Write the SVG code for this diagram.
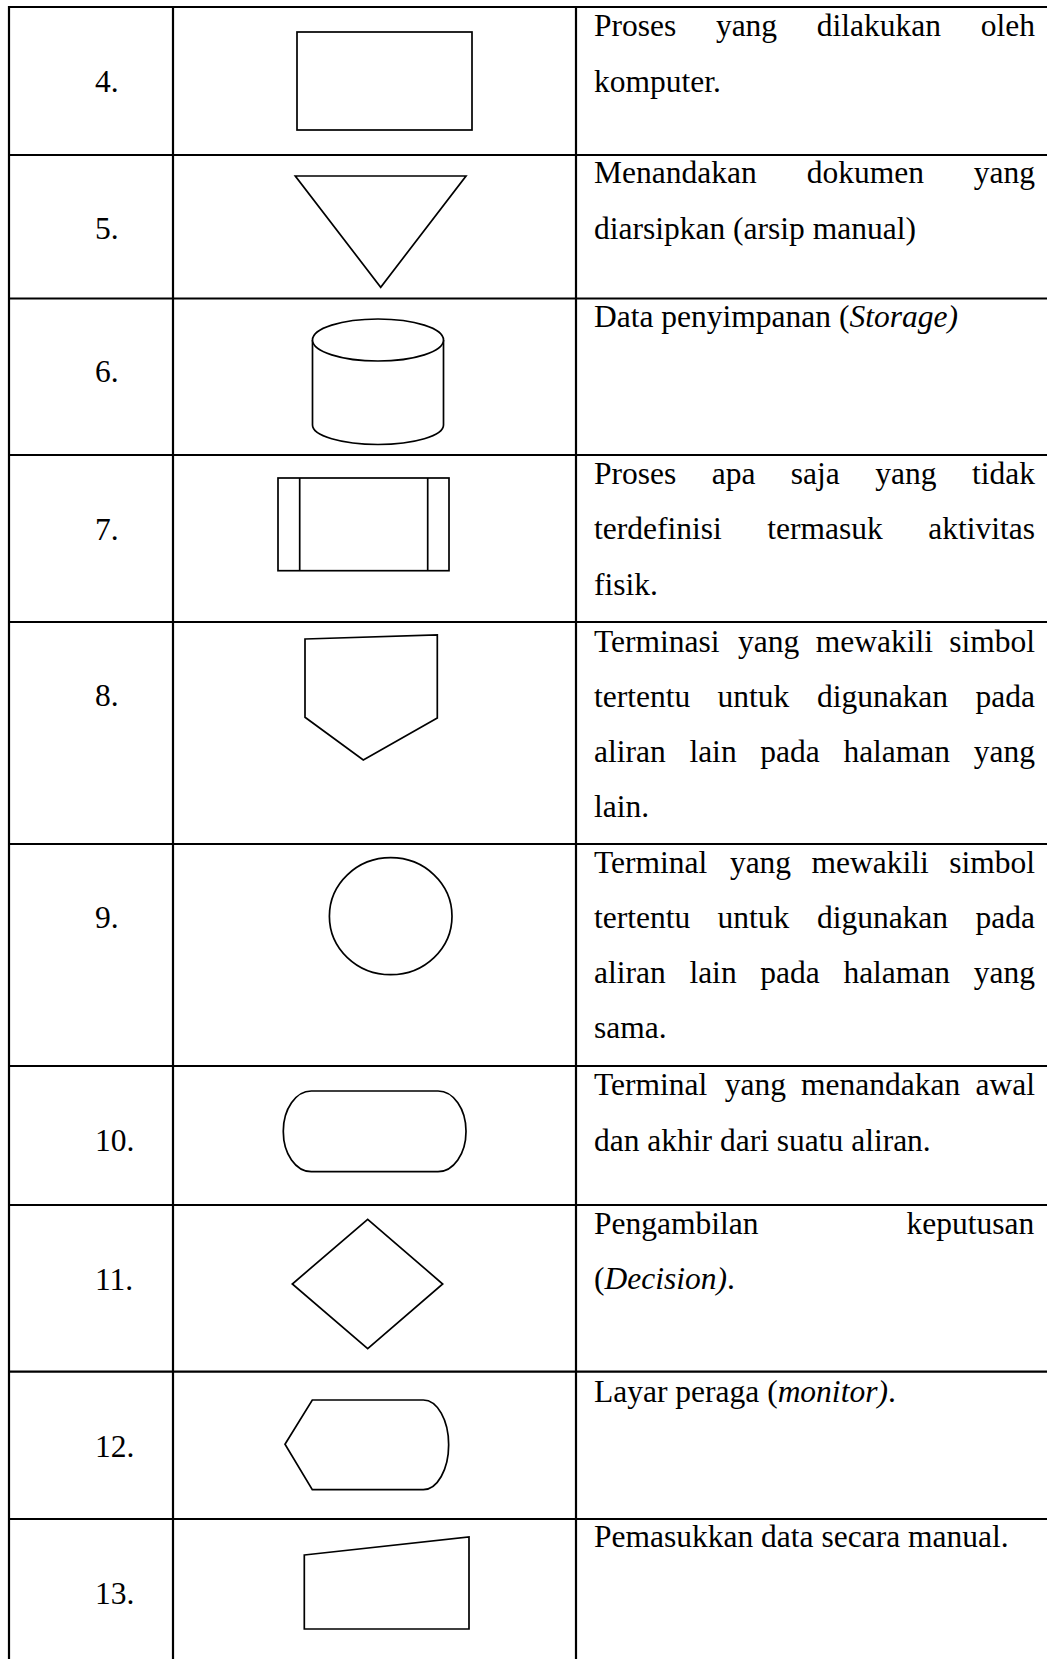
<svg xmlns="http://www.w3.org/2000/svg" width="1047" height="1659" viewBox="0 0 1047 1659">
<style>
.grid{stroke:#000;stroke-width:2.2;fill:none}
.shape{stroke:#000;stroke-width:1.7;fill:#fff}
text{font-family:"Liberation Serif","Times New Roman",serif;font-size:31.5px;fill:#000}
.it{font-style:italic}
</style>
<rect width="1047" height="1659" fill="#fff"/>
<g id="table-grid" class="grid">
<line x1="8" y1="7" x2="1047" y2="7"/>
<line x1="9" y1="6" x2="9" y2="1659"/>
<line x1="173" y1="6" x2="173" y2="1659"/>
<line x1="576" y1="6" x2="576" y2="1659"/>
<line x1="8" y1="155" x2="1047" y2="155"/>
<line x1="8" y1="298.5" x2="1047" y2="298.5"/>
<line x1="8" y1="455" x2="1047" y2="455"/>
<line x1="8" y1="622" x2="1047" y2="622"/>
<line x1="8" y1="844" x2="1047" y2="844"/>
<line x1="8" y1="1066" x2="1047" y2="1066"/>
<line x1="8" y1="1205" x2="1047" y2="1205"/>
<line x1="8" y1="1371.7" x2="1047" y2="1371.7"/>
<line x1="8" y1="1519" x2="1047" y2="1519"/>
</g>
<g id="row4">
<text x="95" y="92">4.</text>
<rect class="shape" x="297" y="32" width="175" height="98"/>
<text y="36"><tspan x="594">Proses</tspan><tspan x="715.9">yang</tspan><tspan x="816.8">dilakukan</tspan><tspan x="980.7">oleh</tspan></text>
<text x="594" y="92">komputer.</text>
</g>
<g id="row5">
<text x="95" y="239">5.</text>
<polygon class="shape" points="295.3,176 466,176 380.7,287.3"/>
<text y="183"><tspan x="594">Menandakan</tspan><tspan x="806.7">dokumen</tspan><tspan x="973.8">yang</tspan></text>
<text x="594" y="239">diarsipkan (arsip manual)</text>
</g>
<g id="row6">
<text x="95" y="382">6.</text>
<path class="shape" d="M312.5,340 L312.5,425 A65.5,19.5 0 0 0 443.5,425 L443.5,340"/>
<ellipse class="shape" cx="378" cy="340" rx="65.5" ry="21"/>
<text x="594" y="327">Data penyimpanan (<tspan class="it">Storage)</tspan></text>
</g>
<g id="row7">
<text x="95" y="540">7.</text>
<rect class="shape" x="278" y="478" width="171" height="92.7"/>
<line class="shape" x1="299.7" y1="478" x2="299.7" y2="570.7"/>
<line class="shape" x1="427.7" y1="478" x2="427.7" y2="570.7"/>
<text y="484"><tspan x="594">Proses</tspan><tspan x="711.7">apa</tspan><tspan x="790.8">saja</tspan><tspan x="875.3">yang</tspan><tspan x="971.9">tidak</tspan></text>
<text y="539"><tspan x="594">terdefinisi</tspan><tspan x="767.2">termasuk</tspan><tspan x="928.2">aktivitas</tspan></text>
<text x="594" y="595">fisik.</text>
</g>
<g id="row8">
<text x="95" y="706">8.</text>
<polygon class="shape" points="305,639 437.3,635 437.3,718 363.3,760 305,717.3"/>
<text y="651.7"><tspan x="594">Terminasi</tspan><tspan x="738.1">yang</tspan><tspan x="815.7">mewakili</tspan><tspan x="949.2">simbol</tspan></text>
<text y="706.7"><tspan x="594">tertentu</tspan><tspan x="717.6">untuk</tspan><tspan x="816.9">digunakan</tspan><tspan x="975.5">pada</tspan></text>
<text y="761.7"><tspan x="594">aliran</tspan><tspan x="689.4">lain</tspan><tspan x="760.3">pada</tspan><tspan x="843.4">halaman</tspan><tspan x="973.8">yang</tspan></text>
<text x="594" y="816.7">lain.</text>
</g>
<g id="row9">
<text x="95" y="928">9.</text>
<ellipse class="shape" cx="390.7" cy="916.2" rx="61.3" ry="58.5"/>
<text y="873.3"><tspan x="594">Terminal</tspan><tspan x="729.9">yang</tspan><tspan x="811.5">mewakili</tspan><tspan x="949.2">simbol</tspan></text>
<text y="928.3"><tspan x="594">tertentu</tspan><tspan x="717.6">untuk</tspan><tspan x="816.9">digunakan</tspan><tspan x="975.5">pada</tspan></text>
<text y="982.7"><tspan x="594">aliran</tspan><tspan x="689.4">lain</tspan><tspan x="760.3">pada</tspan><tspan x="843.4">halaman</tspan><tspan x="973.8">yang</tspan></text>
<text x="594" y="1038.3">sama.</text>
</g>
<g id="row10">
<text x="95" y="1150.7">10.</text>
<rect class="shape" x="283.3" y="1091" width="182.7" height="80.7" rx="28" ry="40"/>
<text y="1095"><tspan x="594">Terminal</tspan><tspan x="724.7">yang</tspan><tspan x="801.1">menandakan</tspan><tspan x="975.5">awal</tspan></text>
<text x="594" y="1150.7">dan akhir dari suatu aliran.</text>
</g>
<g id="row11">
<text x="95" y="1290">11.</text>
<polygon class="shape" points="367.7,1219.3 442.7,1284 367.7,1348.7 292.3,1284"/>
<text y="1234.3"><tspan x="594">Pengambilan</tspan><tspan x="906.6">keputusan</tspan></text>
<text x="594" y="1289.3">(<tspan class="it">Decision)</tspan>.</text>
</g>
<g id="row12">
<text x="95" y="1456.7">12.</text>
<path class="shape" d="M285,1444.3 L312.3,1400 L423.3,1400 A25.4,44.85 0 0 1 423.3,1489.7 L312.3,1489.7 Z"/>
<text x="594" y="1401.7">Layar peraga (<tspan class="it">monitor)</tspan>.</text>
</g>
<g id="row13">
<text x="95" y="1604">13.</text>
<polygon class="shape" points="304.3,1555 469,1537 469,1629 304.3,1629"/>
<text x="594" y="1547.3">Pemasukkan data secara manual.</text>
</g>
</svg>
